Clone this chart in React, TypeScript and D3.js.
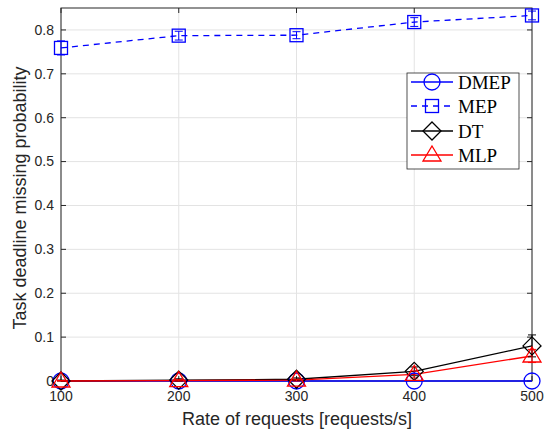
import React from "react";
import * as d3 from "d3";

const rates = [100, 200, 300, 400, 500];
const dmep = [0, 0, 0, 0, 0];
const mep = [0.759, 0.787, 0.788, 0.818, 0.833];
const mepErr = [0.016, 0.01, 0.008, 0.01, 0.01];
const dt = [0, 0.002, 0.004, 0.022, 0.08];
const dtErr = [0.002, 0.003, 0.003, 0.01, 0.025];
const mlp = [0, 0.001, 0.002, 0.015, 0.057];
const mlpErr = [0.001, 0.002, 0.002, 0.008, 0.015];
const yTicks = [0, 0.1, 0.2, 0.3, 0.4, 0.5, 0.6, 0.7, 0.8];
const xTicks = [100, 200, 300, 400, 500];
const legendNames = ["DMEP", "MEP", "DT", "MLP"];

const W = 548, H = 435;
const L = 61, R = 532, T = 8, B = 381;

export default function App() {
  const x = d3.scaleLinear().domain([100, 500]).range([L, R]);
  const y = d3.scaleLinear().domain([0, 0.85]).range([B, T]);
  const line = d3.line<number>().x((_, i) => x(rates[i])).y((d) => y(d));
  const axisColor = "#262626";
  const font = "'Liberation Sans', Arial, sans-serif";

  const marker = (type: string, cx: number, cy: number, color: string, key: string) => {
    if (type === "circle") return <circle key={key} cx={cx} cy={cy} r={8} fill="none" stroke={color} strokeWidth={1.3} />;
    if (type === "square") return <rect key={key} x={cx - 6.5} y={cy - 6.5} width={13} height={13} fill="none" stroke={color} strokeWidth={1.3} />;
    if (type === "diamond") return <path key={key} d={`M${cx},${cy - 9}L${cx + 9},${cy}L${cx},${cy + 9}L${cx - 9},${cy}Z`} fill="none" stroke={color} strokeWidth={1.3} />;
    return <path key={key} d={`M${cx},${cy - 9}L${cx + 9},${cy + 6}L${cx - 9},${cy + 6}Z`} fill="none" stroke={color} strokeWidth={1.3} />;
  };

  const errbars = (vals: number[], errs: number[], color: string, k: string) =>
    vals.map((v, i) => {
      const cx = x(rates[i]);
      const y1 = y(v + errs[i]), y2 = y(Math.max(0, v - errs[i]));
      return (
        <g key={k + i} stroke={color} strokeWidth={1}>
          <line x1={cx} x2={cx} y1={y1} y2={y2} />
          <line x1={cx - 4} x2={cx + 4} y1={y1} y2={y1} />
          <line x1={cx - 4} x2={cx + 4} y1={y2} y2={y2} />
        </g>
      );
    });

  const series = [
    { vals: dmep, color: "#0000ff", dash: undefined, m: "circle" },
    { vals: mep, color: "#0000ff", dash: "6,5", m: "square" },
    { vals: dt, color: "#000000", dash: undefined, m: "diamond" },
    { vals: mlp, color: "#ff0000", dash: undefined, m: "triangle" },
  ];

  const lx = 407, ly = 73, lw = 112, lh = 96;
  const rowY = [82, 106, 131, 155];

  return (
    <svg width={W} height={H} style={{ position: "absolute", left: 0, top: 0, background: "#fff" }}>
      <rect x={0} y={0} width={W} height={H} fill="#fff" />
      {yTicks.map((t) => (
        <line key={"gy" + t} x1={L} x2={R} y1={y(t)} y2={y(t)} stroke="#e3e3e3" strokeWidth={1} />
      ))}
      {xTicks.map((t) => (
        <line key={"gx" + t} x1={x(t)} x2={x(t)} y1={T} y2={B} stroke="#e3e3e3" strokeWidth={1} />
      ))}
      {yTicks.map((t) => (
        <g key={"ty" + t} stroke={axisColor} strokeWidth={1}>
          <line x1={L} x2={L + 5} y1={y(t)} y2={y(t)} />
          <line x1={R} x2={R - 5} y1={y(t)} y2={y(t)} />
        </g>
      ))}
      {xTicks.map((t) => (
        <g key={"tx" + t} stroke={axisColor} strokeWidth={1}>
          <line x1={x(t)} x2={x(t)} y1={B} y2={B - 5} />
          <line x1={x(t)} x2={x(t)} y1={T} y2={T + 5} />
        </g>
      ))}
      <rect x={L} y={T} width={R - L} height={B - T} fill="none" stroke={axisColor} strokeWidth={1} />
      {yTicks.map((t) => (
        <text key={"ly" + t} x={L - 7} y={y(t)} dy="0.35em" textAnchor="end" fontFamily={font} fontSize={14} fill={axisColor}>
          {t === 0 ? "0" : t.toFixed(1)}
        </text>
      ))}
      {xTicks.map((t) => (
        <text key={"lx" + t} x={x(t)} y={B + 20} textAnchor="middle" fontFamily={font} fontSize={14} fill={axisColor}>
          {t}
        </text>
      ))}
      <text x={297} y={425} textAnchor="middle" fontFamily={font} fontSize={18} fill={axisColor}>
        Rate of requests [requests/s]
      </text>
      <text transform={`translate(26,198) rotate(-90)`} textAnchor="middle" fontFamily={font} fontSize={18} fill={axisColor}>
        Task deadline missing probability
      </text>
      {series.map((s, si) => (
        <path key={"l" + si} d={line(s.vals) || ""} fill="none" stroke={s.color} strokeWidth={1.3} strokeDasharray={s.dash} />
      ))}
      {errbars(mep, mepErr, "#0000ff", "em")}
      {errbars(dt, dtErr, "#000000", "ed")}
      {errbars(mlp, mlpErr, "#ff0000", "el")}
      {series.map((s, si) => s.vals.map((v, i) => marker(s.m, x(rates[i]), y(v), s.color, `m${si}-${i}`)))}
      <rect x={lx} y={ly} width={lw} height={lh} fill="#fff" stroke={axisColor} strokeWidth={0.8} />
      {series.map((s, i) => (
        <g key={"lg" + i}>
          <line x1={411} x2={453} y1={rowY[i]} y2={rowY[i]} stroke={s.color} strokeWidth={1.3} strokeDasharray={s.dash} />
          {marker(s.m, 432, rowY[i], s.color, "lm" + i)}
          <text x={458} y={rowY[i]} dy="0.35em" fontFamily="'Liberation Serif', 'DejaVu Serif', serif" fontSize={19} fill="#000">
            {legendNames[i]}
          </text>
        </g>
      ))}
    </svg>
  );
}
